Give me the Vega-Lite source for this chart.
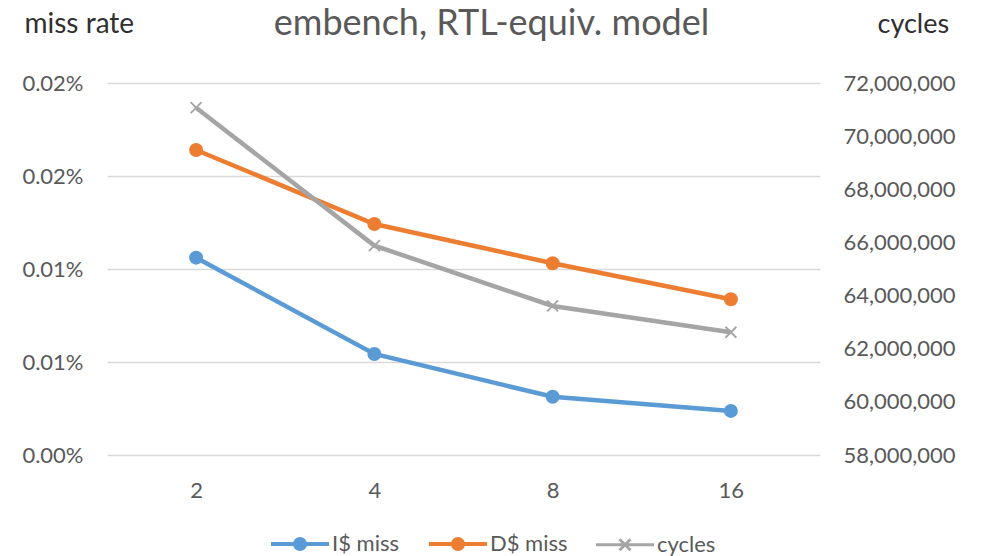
{
  "$schema": "https://vega.github.io/schema/vega-lite/v6.json",
  "width": 713,
  "height": 372,
  "autosize": "none",
  "padding": {"left": 107, "top": 83, "right": 161, "bottom": 101},
  "background": "white",
  "config": {"view": {"stroke": null}, "font": "Lato"},
  "title": {
    "text": "embench, RTL-equiv. model",
    "font": "Lato",
    "fontSize": 36,
    "fontWeight": "normal",
    "color": "#595959",
    "anchor": "middle",
    "frame": "group",
    "baseline": "alphabetic",
    "offset": 0,
    "dx": 28,
    "dy": 61
  },
  "data": {
    "values": [
      {"assoc": "2", "series": "I$ miss", "rate": 0.0001061},
      {"assoc": "4", "series": "I$ miss", "rate": 0.0000543},
      {"assoc": "8", "series": "I$ miss", "rate": 0.0000313},
      {"assoc": "16", "series": "I$ miss", "rate": 0.0000237},
      {"assoc": "2", "series": "D$ miss", "rate": 0.000164},
      {"assoc": "4", "series": "D$ miss", "rate": 0.0001242},
      {"assoc": "8", "series": "D$ miss", "rate": 0.0001031},
      {"assoc": "16", "series": "D$ miss", "rate": 0.0000837},
      {"assoc": "2", "series": "cycles", "cycles": 71070000},
      {"assoc": "4", "series": "cycles", "cycles": 65880000},
      {"assoc": "8", "series": "cycles", "cycles": 63610000},
      {"assoc": "16", "series": "cycles", "cycles": 62620000}
    ]
  },
  "encoding": {
    "x": {
      "field": "assoc",
      "type": "ordinal",
      "sort": ["2", "4", "8", "16"],
      "scale": {"type": "point", "padding": 0.5},
      "axis": {
        "title": null,
        "labelAngle": 0,
        "labelPadding": 42,
        "labelBaseline": "alphabetic",
        "domain": false,
        "ticks": false,
        "grid": false,
        "labelFont": "Lato",
        "labelFontSize": 22,
        "labelColor": "#595959"
      }
    },
    "color": {
      "field": "series",
      "type": "nominal",
      "scale": {"domain": ["I$ miss", "D$ miss", "cycles"], "range": ["#5B9BD5", "#ED7D31", "#A5A5A5"]},
      "legend": {
        "orient": "none",
        "legendX": 182,
        "legendY": 450,
        "direction": "horizontal",
        "title": null,
        "labelFont": "Lato",
        "labelFontSize": 22,
        "labelColor": "#595959",
        "symbolSize": 100,
        "symbolStrokeWidth": 1.5,
        "labelOffset": 21,
        "columnPadding": 22,
        "encode": {
          "symbols": {
            "update": {
              "shape": {"signal": "datum.value === 'cycles' ? 'M-5.8,0L5.8,0M-1.1,-1.1L1.1,1.1M-1.1,1.1L1.1,-1.1' : 'M-5.8,0L-1,0M1,0L5.8,0M-1,0A1,1,0,1,1,1,0A1,1,0,1,1,-1,0Z'"},
              "fill": {"scale": "color", "field": "value"},
              "stroke": {"scale": "color", "field": "value"},
              "strokeWidth": {"signal": "datum.value === 'cycles' ? 3 : 4"},
              "opacity": {"value": 1},
              "size": {"value": 100}
            }
          }
        }
      }
    }
  },
  "layer": [
    {
      "transform": [{"filter": "datum.series !== 'cycles'"}],
      "encoding": {
        "y": {
          "field": "rate",
          "type": "quantitative",
          "scale": {"domain": [0, 0.0002], "nice": false, "zero": true},
          "axis": {
            "orient": "left",
            "values": [0, 0.00005, 0.0001, 0.00015, 0.0002],
            "labelExpr": "format(datum.value * 100 + 1e-9, '.2f') + '%'",
            "title": "miss rate",
            "titleAngle": 0,
            "titleAlign": "left",
            "titleBaseline": "alphabetic",
            "titleX": -83,
            "titleY": -51,
            "titleFont": "Lato",
            "titleFontSize": 28,
            "titleFontWeight": "normal",
            "titleColor": "#303030",
            "labelFont": "Lato",
            "labelFontSize": 22,
            "labelColor": "#595959",
            "labelPadding": 24,
            "ticks": false,
            "domain": false,
            "grid": true,
            "gridColor": "#D9D9D9",
            "gridWidth": 1.3
          }
        }
      },
      "layer": [
        {"mark": {"type": "line", "strokeWidth": 4.5}},
        {"mark": {"type": "point", "filled": true, "shape": "circle", "size": 196, "opacity": 1}}
      ]
    },
    {
      "transform": [{"filter": "datum.series === 'cycles'"}],
      "encoding": {
        "y": {
          "field": "cycles",
          "type": "quantitative",
          "scale": {"domain": [58000000, 72000000], "nice": false, "zero": false},
          "axis": {
            "orient": "right",
            "values": [58000000, 60000000, 62000000, 64000000, 66000000, 68000000, 70000000, 72000000],
            "format": ",d",
            "title": "cycles",
            "titleAngle": 0,
            "titleAlign": "left",
            "titleBaseline": "alphabetic",
            "titleX": 57,
            "titleY": -51,
            "titleFont": "Lato",
            "titleFontSize": 27,
            "titleFontWeight": "normal",
            "titleColor": "#303030",
            "labelFont": "Lato",
            "labelFontSize": 22,
            "labelColor": "#595959",
            "labelPadding": 23,
            "ticks": false,
            "domain": false,
            "grid": false
          }
        }
      },
      "layer": [
        {"mark": {"type": "line", "strokeWidth": 4.5}},
        {"mark": {"type": "point", "filled": false, "shape": "M-1,-1L1,1M-1,1L1,-1", "size": 121, "strokeWidth": 1.8, "opacity": 1}}
      ]
    }
  ],
  "resolve": {"scale": {"y": "independent"}}
}
